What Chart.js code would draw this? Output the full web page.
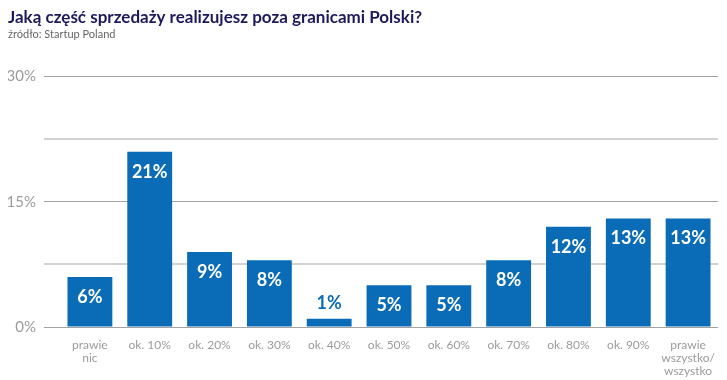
<!DOCTYPE html>
<html>
<head>
<meta charset="utf-8">
<script src="https://cdn.jsdelivr.net/npm/chart.js@4/dist/chart.umd.min.js"></script>
<style>
  html, body { margin: 0; padding: 0; background: #fff; }
  #wrap { width: 727px; height: 380px; }
</style>
</head>
<body>
<div id="wrap"><canvas id="c"></canvas></div>
<script>
const categories = [['prawie', 'nic'], 'ok. 10%', 'ok. 20%', 'ok. 30%', 'ok. 40%', 'ok. 50%',
  'ok. 60%', 'ok. 70%', 'ok. 80%', 'ok. 90%', ['prawie', 'wszystko/', 'wszystko']];
const shares = [6, 21, 9, 8, 1, 5, 5, 8, 12, 13, 13];
const yTicks = [0, 15, 30];          // labelled lines
const yGrid = [0, 7.5, 15, 22.5, 30]; // all grid lines

const blue = '#0a6cb7';
const grey = '#9b9b9b';

// value labels: white inside the bar, blue above it when the bar is too short
const valueLabels = {
  id: 'valueLabels',
  afterDatasetsDraw(chart) {
    const ctx = chart.ctx;
    const meta = chart.getDatasetMeta(0);
    ctx.save();
    ctx.font = 'bold 18px Lato';
    ctx.textAlign = 'center';
    meta.data.forEach((bar, i) => {
      const txt = shares[i] + '%';
      const h = bar.base - bar.y;
      if (h > 30) {
        ctx.fillStyle = '#fff';
        ctx.textBaseline = 'middle';
        ctx.fillText(txt, bar.x, bar.y + 20);
      } else {
        ctx.fillStyle = blue;
        ctx.textBaseline = 'bottom';
        ctx.fillText(txt, bar.x, bar.y - 6);
      }
    });
    ctx.restore();
  }
};

new Chart(document.getElementById('c'), {
  type: 'bar',
  data: {
    labels: categories,
    datasets: [{
      data: shares,
      backgroundColor: blue,
      categoryPercentage: 1,
      barPercentage: 0.75
    }]
  },
  options: {
    responsive: true,
    maintainAspectRatio: false,
    animation: false,
    layout: { padding: { left: 8, right: 9, top: 7, bottom: 2 } },
    plugins: {
      legend: { display: false },
      tooltip: { enabled: false },
      title: {
        display: true,
        text: 'Jaką część sprzedaży realizujesz poza granicami Polski?',
        align: 'start',
        color: '#1d1a5c',
        font: { family: 'Lato', size: 17, weight: 'bold' },
        padding: { top: 0, bottom: 0 }
      },
      subtitle: {
        display: true,
        text: 'źródło: Startup Poland',
        align: 'start',
        color: '#666',
        font: { family: 'Lato', size: 11 },
        padding: { top: 0, bottom: 36 }
      }
    },
    scales: {
      x: {
        afterFit(scale) { scale.height = 51; },
        grid: { display: false, drawTicks: false },
        border: { display: false },
        ticks: {
          color: grey,
          font: { family: 'Lato', size: 12, lineHeight: 1.12 },
          padding: 11,
          maxRotation: 0,
          autoSkip: false
        }
      },
      y: {
        min: 0,
        max: 30,
        afterFit(scale) { scale.width = 52; },
        afterBuildTicks(scale) { scale.ticks = yGrid.map(v => ({ value: v })); },
        border: { display: false },
        grid: {
          tickLength: 16,
          color: c => c.tick && yTicks.includes(c.tick.value) ? '#a3a3a3' : '#d2d2d2',
          lineWidth: c => c.tick && yTicks.includes(c.tick.value) ? 1 : 2
        },
        ticks: {
          padding: 8,
          autoSkip: false,
          color: grey,
          font: { family: 'Lato', size: 15 },
          callback: v => yTicks.includes(v) ? v + '%' : ''
        }
      }
    }
  },
  plugins: [valueLabels]
});
</script>
</body>
</html>
